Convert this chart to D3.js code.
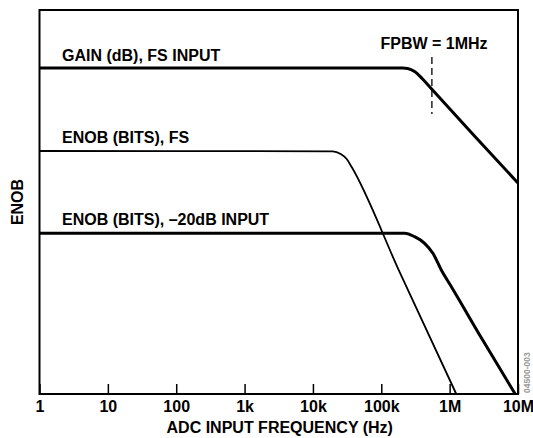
<!DOCTYPE html>
<meta charset="utf-8">
<style>
  body { margin: 0; background: #fff; }
  text { font-family: "Liberation Sans", Arial, sans-serif; font-weight: bold; }
</style>
<body></body>
<script src="https://d3js.org/d3.v7.min.js"></script>
<script>

// frequency ticks (Hz) and their labels
const tickValues = [1, 10, 100, 1e3, 1e4, 1e5, 1e6, 1e7];
const tickLabels = ["1", "10", "100", "1k", "10k", "100k", "1M", "10M"];

// curves, y in arbitrary units (0 = bottom, 100 = top)
const gainFreq = [1, 205e3, 243e3, 307e3, 402e3, 550e3, 2.31e6, 1e7];
const gainVal  = [84.9, 84.9, 84.77, 83.98, 82.03, 79.35, 67.2, 54.95];

const enobFsFreq = [1, 19.5e3, 25.5e3, 31.2e3, 36.9e3, 185e3, 1.25e6];
const enobFsVal  = [63.28, 63.2, 62.5, 61.2, 59.1, 31.8, 0];

const enob20Freq = [1, 219e3, 307e3, 430e3, 569e3, 755e3, 1.06e6, 3.03e6, 9.1e6];
const enob20Val  = [41.85, 41.85, 40.96, 39.24, 36.64, 32.29, 27.94, 14.1, 0];

// FPBW marker
const fpbwFreq = 550e3;
const fpbwRange = [72.9, 87.76];

const width = 533, height = 438;
const margin = {top: 10, right: 15, bottom: 44, left: 39.5};
const fontSize = 16;

const svg = d3.select("body").append("svg")
    .attr("width", width)
    .attr("height", height);

const x = d3.scaleLog()
    .domain([1, 1e7])
    .range([margin.left, width - margin.right]);

const y = d3.scaleLinear()
    .domain([0, 100])
    .range([height - margin.bottom, margin.top]);

// x axis, ticks pointing inward
svg.append("g")
    .attr("transform", `translate(0,${height - margin.bottom})`)
    .call(d3.axisBottom(x)
      .tickValues(tickValues)
      .tickFormat((d, i) => tickLabels[i])
      .tickSize(-10)
      .tickPadding(7))
    .call(g => g.select(".domain").remove())
    .call(g => g.selectAll(".tick line").attr("stroke", "#000").attr("stroke-width", 1.5))
    .call(g => g.selectAll(".tick text")
      .attr("font-size", fontSize)
      .attr("font-family", "Liberation Sans, Arial, sans-serif")
      .attr("fill", "#000"));

// frame
svg.append("rect")
    .attr("x", x.range()[0])
    .attr("y", y.range()[1])
    .attr("width", x.range()[1] - x.range()[0])
    .attr("height", y.range()[0] - y.range()[1])
    .attr("fill", "none")
    .attr("stroke", "#000")
    .attr("stroke-width", 2);

const line = d3.line()
    .x(d => x(d[0]))
    .y(d => y(d[1]))
    .curve(d3.curveMonotoneX);

const series = [
  {f: gainFreq, v: gainVal, w: 3},
  {f: enobFsFreq, v: enobFsVal, w: 1.8},
  {f: enob20Freq, v: enob20Val, w: 3}
];

svg.append("g")
    .attr("fill", "none")
    .attr("stroke", "#000")
    .attr("stroke-linejoin", "round")
  .selectAll("path")
  .data(series)
  .join("path")
    .attr("stroke-width", d => d.w)
    .attr("d", d => line(d.f.map((f, i) => [f, d.v[i]])));

// dashed FPBW line
svg.append("line")
    .attr("x1", x(fpbwFreq)).attr("x2", x(fpbwFreq))
    .attr("y1", y(fpbwRange[1])).attr("y2", y(fpbwRange[0]))
    .attr("stroke", "#000")
    .attr("stroke-width", 1.3)
    .attr("stroke-dasharray", "7,4");

// labels
const labels = svg.append("g").attr("font-size", fontSize).attr("fill", "#000");

labels.append("text").attr("x", 62).attr("y", 61).text("GAIN (dB), FS INPUT");
labels.append("text").attr("x", 62).attr("y", 143).text("ENOB (BITS), FS");
labels.append("text").attr("x", 62).attr("y", 225).text("ENOB (BITS), \u201320dB INPUT");
labels.append("text").attr("x", 434).attr("y", 49)
    .attr("text-anchor", "middle").text("FPBW = 1MHz");

svg.append("text")
    .attr("x", (x.range()[0] + x.range()[1]) / 2 + 1)
    .attr("y", 433)
    .attr("text-anchor", "middle")
    .attr("font-size", fontSize)
    .text("ADC INPUT FREQUENCY (Hz)");

svg.append("text")
    .attr("transform", `translate(23,${(y.range()[0] + y.range()[1]) / 2}) rotate(-90)`)
    .attr("text-anchor", "middle")
    .attr("font-size", fontSize)
    .text("ENOB");

// figure id, tiny and grey at the right edge
svg.append("text")
    .attr("transform", `translate(530,${y.range()[0] - 1}) rotate(-90)`)
    .attr("font-size", 8.5)
    .attr("font-weight", "normal")
    .attr("fill", "#999")
    .text("04500-003");

</script>
